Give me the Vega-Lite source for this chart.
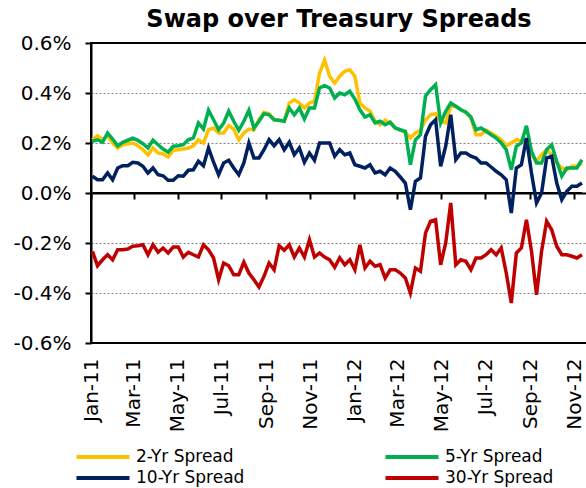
{
"$schema": "https://vega.github.io/schema/vega-lite/v6.json",
"width": 496, "height": 300,
"autosize": {"type": "none"},
"padding": {"left": 91, "top": 43, "right": 0, "bottom": 145},
"background": "white",
"title": {"text": "Swap over Treasury Spreads", "anchor": "middle", "fontSize": 24, "fontWeight": "bold", "font": "DejaVu Sans", "color": "black", "offset": 1},
"config": {"view": {"stroke": "black", "strokeWidth": 2}, "font": "DejaVu Sans"},
"data": {"values": [
{"date":"2011-01-03","2-Yr Spread":0.213,"5-Yr Spread":0.207,"10-Yr Spread":0.067,"30-Yr Spread":-0.233},
{"date":"2011-01-10","2-Yr Spread":0.229,"5-Yr Spread":0.213,"10-Yr Spread":0.053,"30-Yr Spread":-0.291},
{"date":"2011-01-17","2-Yr Spread":0.213,"5-Yr Spread":0.203,"10-Yr Spread":0.053,"30-Yr Spread":-0.267},
{"date":"2011-01-24","2-Yr Spread":0.229,"5-Yr Spread":0.240,"10-Yr Spread":0.080,"30-Yr Spread":-0.247},
{"date":"2011-01-31","2-Yr Spread":0.200,"5-Yr Spread":0.216,"10-Yr Spread":0.053,"30-Yr Spread":-0.267},
{"date":"2011-02-07","2-Yr Spread":0.180,"5-Yr Spread":0.189,"10-Yr Spread":0.100,"30-Yr Spread":-0.227},
{"date":"2011-02-14","2-Yr Spread":0.193,"5-Yr Spread":0.203,"10-Yr Spread":0.109,"30-Yr Spread":-0.227},
{"date":"2011-02-21","2-Yr Spread":0.197,"5-Yr Spread":0.211,"10-Yr Spread":0.109,"30-Yr Spread":-0.224},
{"date":"2011-02-28","2-Yr Spread":0.200,"5-Yr Spread":0.219,"10-Yr Spread":0.123,"30-Yr Spread":-0.213},
{"date":"2011-03-07","2-Yr Spread":0.189,"5-Yr Spread":0.211,"10-Yr Spread":0.120,"30-Yr Spread":-0.211},
{"date":"2011-03-14","2-Yr Spread":0.173,"5-Yr Spread":0.197,"10-Yr Spread":0.107,"30-Yr Spread":-0.207},
{"date":"2011-03-21","2-Yr Spread":0.153,"5-Yr Spread":0.180,"10-Yr Spread":0.080,"30-Yr Spread":-0.247},
{"date":"2011-03-28","2-Yr Spread":0.180,"5-Yr Spread":0.211,"10-Yr Spread":0.100,"30-Yr Spread":-0.207},
{"date":"2011-04-04","2-Yr Spread":0.160,"5-Yr Spread":0.193,"10-Yr Spread":0.073,"30-Yr Spread":-0.237},
{"date":"2011-04-11","2-Yr Spread":0.156,"5-Yr Spread":0.176,"10-Yr Spread":0.069,"30-Yr Spread":-0.220},
{"date":"2011-04-18","2-Yr Spread":0.144,"5-Yr Spread":0.163,"10-Yr Spread":0.051,"30-Yr Spread":-0.240},
{"date":"2011-04-25","2-Yr Spread":0.171,"5-Yr Spread":0.187,"10-Yr Spread":0.051,"30-Yr Spread":-0.216},
{"date":"2011-05-02","2-Yr Spread":0.173,"5-Yr Spread":0.189,"10-Yr Spread":0.069,"30-Yr Spread":-0.216},
{"date":"2011-05-09","2-Yr Spread":0.176,"5-Yr Spread":0.193,"10-Yr Spread":0.067,"30-Yr Spread":-0.256},
{"date":"2011-05-16","2-Yr Spread":0.180,"5-Yr Spread":0.213,"10-Yr Spread":0.091,"30-Yr Spread":-0.237},
{"date":"2011-05-23","2-Yr Spread":0.189,"5-Yr Spread":0.220,"10-Yr Spread":0.093,"30-Yr Spread":-0.247},
{"date":"2011-05-30","2-Yr Spread":0.213,"5-Yr Spread":0.280,"10-Yr Spread":0.127,"30-Yr Spread":-0.256},
{"date":"2011-06-06","2-Yr Spread":0.200,"5-Yr Spread":0.256,"10-Yr Spread":0.109,"30-Yr Spread":-0.207},
{"date":"2011-06-13","2-Yr Spread":0.253,"5-Yr Spread":0.331,"10-Yr Spread":0.180,"30-Yr Spread":-0.227},
{"date":"2011-06-20","2-Yr Spread":0.260,"5-Yr Spread":0.293,"10-Yr Spread":0.123,"30-Yr Spread":-0.260},
{"date":"2011-06-27","2-Yr Spread":0.240,"5-Yr Spread":0.253,"10-Yr Spread":0.073,"30-Yr Spread":-0.347},
{"date":"2011-07-04","2-Yr Spread":0.240,"5-Yr Spread":0.280,"10-Yr Spread":0.120,"30-Yr Spread":-0.280},
{"date":"2011-07-11","2-Yr Spread":0.269,"5-Yr Spread":0.327,"10-Yr Spread":0.131,"30-Yr Spread":-0.291},
{"date":"2011-07-18","2-Yr Spread":0.256,"5-Yr Spread":0.287,"10-Yr Spread":0.100,"30-Yr Spread":-0.327},
{"date":"2011-07-25","2-Yr Spread":0.213,"5-Yr Spread":0.251,"10-Yr Spread":0.073,"30-Yr Spread":-0.327},
{"date":"2011-08-01","2-Yr Spread":0.240,"5-Yr Spread":0.287,"10-Yr Spread":0.120,"30-Yr Spread":-0.277},
{"date":"2011-08-08","2-Yr Spread":0.256,"5-Yr Spread":0.331,"10-Yr Spread":0.200,"30-Yr Spread":-0.320},
{"date":"2011-08-15","2-Yr Spread":0.253,"5-Yr Spread":0.260,"10-Yr Spread":0.140,"30-Yr Spread":-0.347},
{"date":"2011-08-22","2-Yr Spread":0.293,"5-Yr Spread":0.287,"10-Yr Spread":0.140,"30-Yr Spread":-0.376},
{"date":"2011-08-29","2-Yr Spread":0.323,"5-Yr Spread":0.317,"10-Yr Spread":0.173,"30-Yr Spread":-0.333},
{"date":"2011-09-05","2-Yr Spread":0.317,"5-Yr Spread":0.313,"10-Yr Spread":0.213,"30-Yr Spread":-0.280},
{"date":"2011-09-12","2-Yr Spread":0.293,"5-Yr Spread":0.293,"10-Yr Spread":0.189,"30-Yr Spread":-0.307},
{"date":"2011-09-19","2-Yr Spread":0.291,"5-Yr Spread":0.291,"10-Yr Spread":0.213,"30-Yr Spread":-0.211},
{"date":"2011-09-26","2-Yr Spread":0.287,"5-Yr Spread":0.287,"10-Yr Spread":0.173,"30-Yr Spread":-0.229},
{"date":"2011-10-03","2-Yr Spread":0.360,"5-Yr Spread":0.340,"10-Yr Spread":0.203,"30-Yr Spread":-0.207},
{"date":"2011-10-10","2-Yr Spread":0.373,"5-Yr Spread":0.313,"10-Yr Spread":0.153,"30-Yr Spread":-0.256},
{"date":"2011-10-17","2-Yr Spread":0.360,"5-Yr Spread":0.340,"10-Yr Spread":0.180,"30-Yr Spread":-0.220},
{"date":"2011-10-24","2-Yr Spread":0.340,"5-Yr Spread":0.296,"10-Yr Spread":0.123,"30-Yr Spread":-0.256},
{"date":"2011-10-31","2-Yr Spread":0.360,"5-Yr Spread":0.340,"10-Yr Spread":0.160,"30-Yr Spread":-0.187},
{"date":"2011-11-07","2-Yr Spread":0.367,"5-Yr Spread":0.340,"10-Yr Spread":0.131,"30-Yr Spread":-0.256},
{"date":"2011-11-14","2-Yr Spread":0.480,"5-Yr Spread":0.420,"10-Yr Spread":0.200,"30-Yr Spread":-0.240},
{"date":"2011-11-21","2-Yr Spread":0.531,"5-Yr Spread":0.429,"10-Yr Spread":0.200,"30-Yr Spread":-0.256},
{"date":"2011-11-28","2-Yr Spread":0.467,"5-Yr Spread":0.420,"10-Yr Spread":0.200,"30-Yr Spread":-0.267},
{"date":"2011-12-05","2-Yr Spread":0.440,"5-Yr Spread":0.380,"10-Yr Spread":0.147,"30-Yr Spread":-0.297},
{"date":"2011-12-12","2-Yr Spread":0.467,"5-Yr Spread":0.400,"10-Yr Spread":0.173,"30-Yr Spread":-0.259},
{"date":"2011-12-19","2-Yr Spread":0.487,"5-Yr Spread":0.393,"10-Yr Spread":0.153,"30-Yr Spread":-0.287},
{"date":"2011-12-26","2-Yr Spread":0.493,"5-Yr Spread":0.407,"10-Yr Spread":0.160,"30-Yr Spread":-0.267},
{"date":"2012-01-02","2-Yr Spread":0.467,"5-Yr Spread":0.376,"10-Yr Spread":0.113,"30-Yr Spread":-0.307},
{"date":"2012-01-09","2-Yr Spread":0.360,"5-Yr Spread":0.333,"10-Yr Spread":0.107,"30-Yr Spread":-0.207},
{"date":"2012-01-16","2-Yr Spread":0.340,"5-Yr Spread":0.304,"10-Yr Spread":0.100,"30-Yr Spread":-0.300},
{"date":"2012-01-23","2-Yr Spread":0.327,"5-Yr Spread":0.313,"10-Yr Spread":0.113,"30-Yr Spread":-0.273},
{"date":"2012-01-30","2-Yr Spread":0.287,"5-Yr Spread":0.280,"10-Yr Spread":0.080,"30-Yr Spread":-0.293},
{"date":"2012-02-06","2-Yr Spread":0.273,"5-Yr Spread":0.287,"10-Yr Spread":0.087,"30-Yr Spread":-0.287},
{"date":"2012-02-13","2-Yr Spread":0.291,"5-Yr Spread":0.273,"10-Yr Spread":0.073,"30-Yr Spread":-0.340},
{"date":"2012-02-20","2-Yr Spread":0.280,"5-Yr Spread":0.283,"10-Yr Spread":0.100,"30-Yr Spread":-0.307},
{"date":"2012-02-27","2-Yr Spread":0.260,"5-Yr Spread":0.260,"10-Yr Spread":0.087,"30-Yr Spread":-0.307},
{"date":"2012-03-05","2-Yr Spread":0.251,"5-Yr Spread":0.253,"10-Yr Spread":0.064,"30-Yr Spread":-0.320},
{"date":"2012-03-12","2-Yr Spread":0.243,"5-Yr Spread":0.247,"10-Yr Spread":0.040,"30-Yr Spread":-0.340},
{"date":"2012-03-19","2-Yr Spread":0.220,"5-Yr Spread":0.113,"10-Yr Spread":-0.067,"30-Yr Spread":-0.400},
{"date":"2012-03-26","2-Yr Spread":0.240,"5-Yr Spread":0.213,"10-Yr Spread":0.047,"30-Yr Spread":-0.300},
{"date":"2012-04-02","2-Yr Spread":0.251,"5-Yr Spread":0.233,"10-Yr Spread":0.060,"30-Yr Spread":-0.313},
{"date":"2012-04-09","2-Yr Spread":0.293,"5-Yr Spread":0.387,"10-Yr Spread":0.227,"30-Yr Spread":-0.160},
{"date":"2012-04-16","2-Yr Spread":0.313,"5-Yr Spread":0.413,"10-Yr Spread":0.273,"30-Yr Spread":-0.113},
{"date":"2012-04-23","2-Yr Spread":0.317,"5-Yr Spread":0.433,"10-Yr Spread":0.293,"30-Yr Spread":-0.107},
{"date":"2012-04-30","2-Yr Spread":0.287,"5-Yr Spread":0.280,"10-Yr Spread":0.107,"30-Yr Spread":-0.287},
{"date":"2012-05-07","2-Yr Spread":0.280,"5-Yr Spread":0.327,"10-Yr Spread":0.187,"30-Yr Spread":-0.200},
{"date":"2012-05-14","2-Yr Spread":0.347,"5-Yr Spread":0.360,"10-Yr Spread":0.313,"30-Yr Spread":-0.040},
{"date":"2012-05-21","2-Yr Spread":0.347,"5-Yr Spread":0.347,"10-Yr Spread":0.133,"30-Yr Spread":-0.287},
{"date":"2012-05-28","2-Yr Spread":0.333,"5-Yr Spread":0.333,"10-Yr Spread":0.160,"30-Yr Spread":-0.267},
{"date":"2012-06-04","2-Yr Spread":0.323,"5-Yr Spread":0.323,"10-Yr Spread":0.160,"30-Yr Spread":-0.273},
{"date":"2012-06-11","2-Yr Spread":0.300,"5-Yr Spread":0.304,"10-Yr Spread":0.147,"30-Yr Spread":-0.307},
{"date":"2012-06-18","2-Yr Spread":0.233,"5-Yr Spread":0.253,"10-Yr Spread":0.140,"30-Yr Spread":-0.260},
{"date":"2012-06-25","2-Yr Spread":0.233,"5-Yr Spread":0.260,"10-Yr Spread":0.120,"30-Yr Spread":-0.260},
{"date":"2012-07-02","2-Yr Spread":0.251,"5-Yr Spread":0.247,"10-Yr Spread":0.120,"30-Yr Spread":-0.247},
{"date":"2012-07-09","2-Yr Spread":0.240,"5-Yr Spread":0.233,"10-Yr Spread":0.104,"30-Yr Spread":-0.227},
{"date":"2012-07-16","2-Yr Spread":0.227,"5-Yr Spread":0.220,"10-Yr Spread":0.087,"30-Yr Spread":-0.247},
{"date":"2012-07-23","2-Yr Spread":0.213,"5-Yr Spread":0.200,"10-Yr Spread":0.073,"30-Yr Spread":-0.220},
{"date":"2012-07-30","2-Yr Spread":0.189,"5-Yr Spread":0.173,"10-Yr Spread":0.053,"30-Yr Spread":-0.320},
{"date":"2012-08-06","2-Yr Spread":0.200,"5-Yr Spread":0.093,"10-Yr Spread":-0.080,"30-Yr Spread":-0.440},
{"date":"2012-08-13","2-Yr Spread":0.213,"5-Yr Spread":0.187,"10-Yr Spread":0.100,"30-Yr Spread":-0.240},
{"date":"2012-08-20","2-Yr Spread":0.207,"5-Yr Spread":0.200,"10-Yr Spread":0.113,"30-Yr Spread":-0.220},
{"date":"2012-08-27","2-Yr Spread":0.213,"5-Yr Spread":0.269,"10-Yr Spread":0.220,"30-Yr Spread":-0.107},
{"date":"2012-09-03","2-Yr Spread":0.153,"5-Yr Spread":0.167,"10-Yr Spread":0.080,"30-Yr Spread":-0.233},
{"date":"2012-09-10","2-Yr Spread":0.127,"5-Yr Spread":0.120,"10-Yr Spread":-0.040,"30-Yr Spread":-0.407},
{"date":"2012-09-17","2-Yr Spread":0.153,"5-Yr Spread":0.120,"10-Yr Spread":0.000,"30-Yr Spread":-0.233},
{"date":"2012-09-24","2-Yr Spread":0.173,"5-Yr Spread":0.173,"10-Yr Spread":0.140,"30-Yr Spread":-0.113},
{"date":"2012-10-01","2-Yr Spread":0.153,"5-Yr Spread":0.193,"10-Yr Spread":0.147,"30-Yr Spread":-0.147},
{"date":"2012-10-08","2-Yr Spread":0.120,"5-Yr Spread":0.127,"10-Yr Spread":0.040,"30-Yr Spread":-0.213},
{"date":"2012-10-15","2-Yr Spread":0.100,"5-Yr Spread":0.067,"10-Yr Spread":-0.027,"30-Yr Spread":-0.247},
{"date":"2012-10-22","2-Yr Spread":0.093,"5-Yr Spread":0.100,"10-Yr Spread":0.007,"30-Yr Spread":-0.247},
{"date":"2012-10-29","2-Yr Spread":0.107,"5-Yr Spread":0.100,"10-Yr Spread":0.027,"30-Yr Spread":-0.253},
{"date":"2012-11-05","2-Yr Spread":0.107,"5-Yr Spread":0.100,"10-Yr Spread":0.027,"30-Yr Spread":-0.260},
{"date":"2012-11-12","2-Yr Spread":0.120,"5-Yr Spread":0.133,"10-Yr Spread":0.040,"30-Yr Spread":-0.247}
]},
"resolve": {"axis": {"x": "independent"}},
"layer": [
{
 "mark": {"type": "line", "color": "black", "strokeWidth": 2},
 "encoding": {
  "x": {"field": "date", "type": "temporal",
   "scale": {"type": "utc", "nice": false, "domain": [{"year": 2011, "month": 1, "date": 1, "utc": true}, {"year": 2012, "month": 11, "date": 19, "utc": true}]},
   "axis": {"orient": "bottom", "offset": -150, "domain": true, "domainColor": "black", "domainWidth": 2, "ticks": true, "tickSize": 6, "tickWidth": 2, "tickColor": "black", "labels": false, "grid": false, "title": null, "tickCount": {"interval": "month", "step": 2}}},
  "y": {"datum": 0, "type": "quantitative",
   "scale": {"domain": [-0.6, 0.6], "nice": false},
   "axis": {"values": [-0.6, -0.4, -0.2, 0, 0.2, 0.4, 0.6], "labelExpr": "(datum.value < 0 ? '-' : '') + format(abs(datum.value), '.1f') + '%'", "grid": true, "gridDash": [2, 2], "gridColor": {"condition": {"test": "abs(datum.value) > 0.5 || datum.value == 0", "value": "transparent"}, "value": "#808080"}, "gridWidth": 1, "domain": true, "domainColor": "black", "domainWidth": 2, "ticks": true, "tickSize": 6, "tickWidth": 2, "tickColor": "black", "labelFontSize": 20, "labelFont": "DejaVu Sans", "labelColor": "black", "labelPadding": 14, "title": null}}
 }
},
{
 "transform": [{"fold": ["2-Yr Spread", "5-Yr Spread", "10-Yr Spread", "30-Yr Spread"], "as": ["series", "value"]}],
 "mark": {"type": "line", "strokeWidth": 3.5},
 "encoding": {
  "x": {"field": "date", "type": "temporal",
   "scale": {"type": "utc", "nice": false, "domain": [{"year": 2011, "month": 1, "date": 1, "utc": true}, {"year": 2012, "month": 11, "date": 19, "utc": true}]},
   "axis": {"orient": "bottom", "domain": false, "ticks": false, "tickSize": 0, "grid": false, "labelAngle": 270, "labelFontSize": 20, "labelFont": "DejaVu Sans", "labelColor": "black", "labelPadding": 15, "labelExpr": "utcFormat(datum.value, '%b-%y')", "title": null, "tickCount": {"interval": "month", "step": 2}, "labelOverlap": false, "labelBound": false, "labelFlush": false}},
  "y": {"field": "value", "type": "quantitative",
   "scale": {"domain": [-0.6, 0.6], "nice": false},
   "axis": {"values": [-0.6, -0.4, -0.2, 0, 0.2, 0.4, 0.6], "labelExpr": "(datum.value < 0 ? '-' : '') + format(abs(datum.value), '.1f') + '%'", "grid": true, "gridDash": [2, 2], "gridColor": {"condition": {"test": "abs(datum.value) > 0.5 || datum.value == 0", "value": "transparent"}, "value": "#808080"}, "gridWidth": 1, "domain": true, "domainColor": "black", "domainWidth": 2, "ticks": true, "tickSize": 6, "tickWidth": 2, "tickColor": "black", "labelFontSize": 20, "labelFont": "DejaVu Sans", "labelColor": "black", "labelPadding": 14, "title": null}},
  "color": {"field": "series", "type": "nominal",
   "scale": {"domain": ["2-Yr Spread", "5-Yr Spread", "10-Yr Spread", "30-Yr Spread"], "range": ["#FFC000", "#00B050", "#002060", "#C00000"]},
   "legend": {"orient": "none", "legendX": -1, "legendY": 401, "direction": "horizontal", "columns": 2, "title": null, "symbolType": "M-2.5,0H2.5", "symbolSize": 450, "symbolStrokeWidth": 4, "labelFontSize": 17, "labelFont": "DejaVu Sans", "labelColor": "black", "labelOffset": 20, "columnPadding": 132, "rowPadding": 0, "padding": 0}}
 }
}
]
}
